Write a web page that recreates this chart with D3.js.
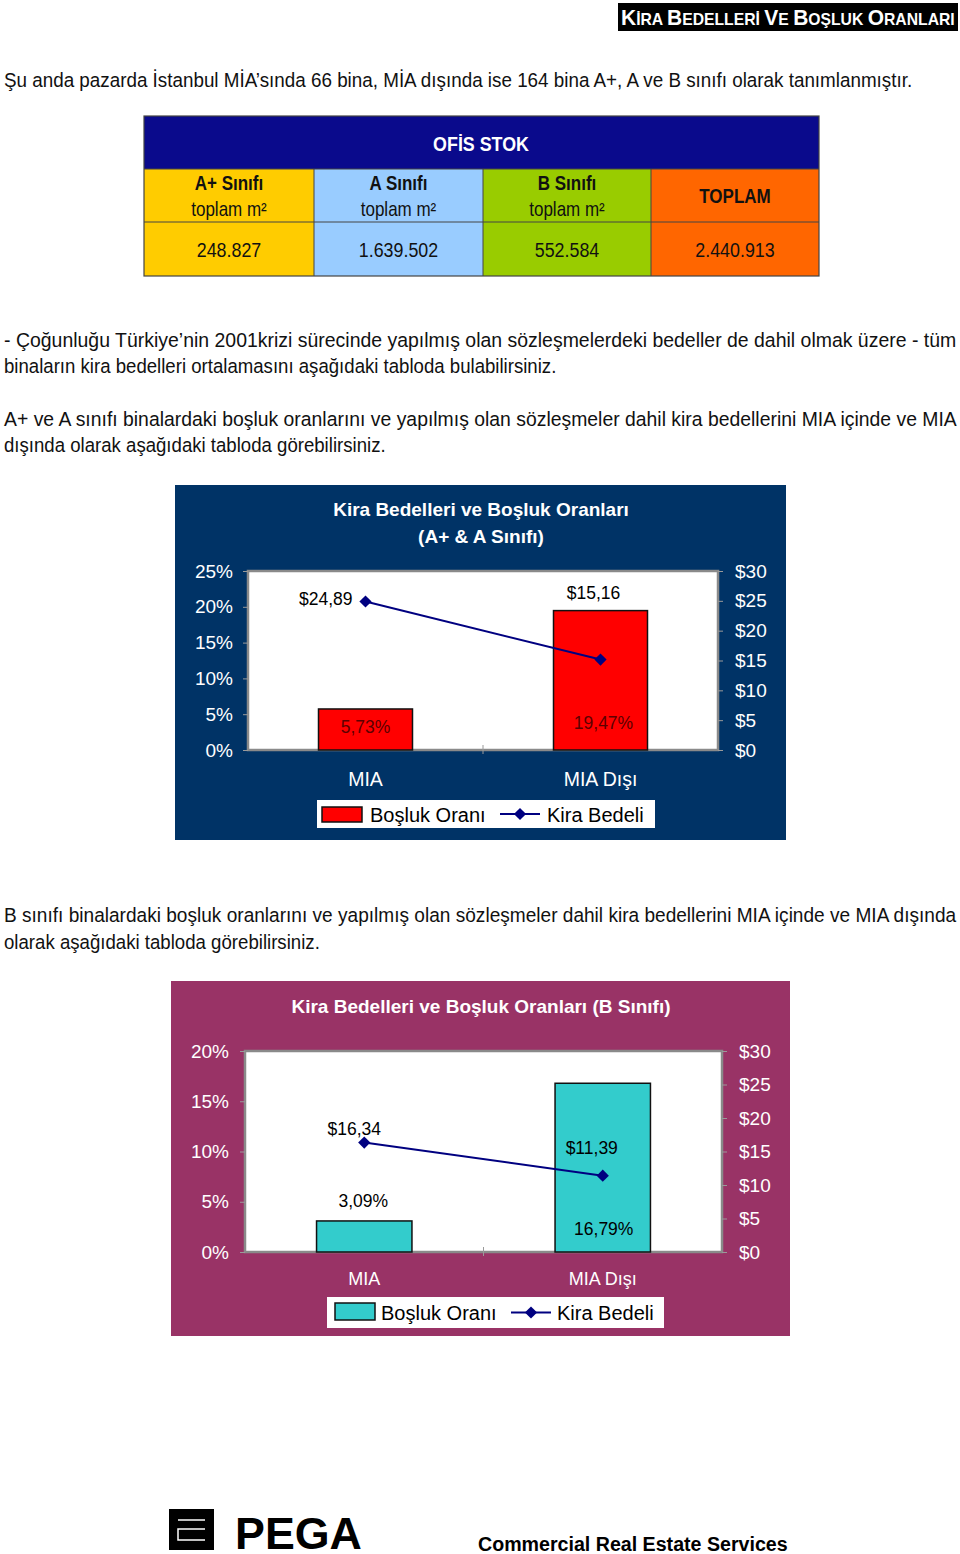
<!DOCTYPE html>
<html><head><meta charset="utf-8">
<script src="https://cdn.jsdelivr.net/npm/d3@7"></script>
<style>body{margin:0;background:#fff}svg{display:block}</style>
</head><body>
<script>
// ---------- DATA ----------
const categories = ["MIA", "MIA Dışı"];
const vacancyAA = [5.73, 19.47];      // Boşluk Oranı (%) A+ & A
const rentAA = [24.89, 15.16];        // Kira Bedeli ($) A+ & A
const vacancyB = [3.09, 16.79];       // Boşluk Oranı (%) B
const rentB = [16.34, 11.39];         // Kira Bedeli ($) B
const pctTicksAA = [0, 5, 10, 15, 20, 25];
const pctTicksB = [0, 5, 10, 15, 20];
const usdTicks = [0, 5, 10, 15, 20, 25, 30];
const stockClasses = ["A+ Sınıfı", "A Sınıfı", "B Sınıfı"];
const stockValues = ["248.827", "1.639.502", "552.584", "2.440.913"];

const W = 960, H = 1554;
const svg = d3.select("body").append("svg").attr("width", W).attr("height", H);
svg.append("rect").attr("width", W).attr("height", H).attr("fill", "#fff");
const FONT = "'Liberation Sans', Arial, sans-serif";

// horizontal scale of a text about its anchor point (keeps bbox honest)
function scaleText(t, f) {
  const x = +t.attr("x"), y = +t.attr("y");
  t.attr("x", 0).attr("y", 0).attr("transform", `translate(${x},${y}) scale(${f},1)`);
  return t;
}
function narrow(t, f) { return scaleText(t, f); }
function fitWidth(t, w) {
  const len = t.node().getComputedTextLength();
  return scaleText(t, w / len);
}

// ---------- HEADER ----------
svg.append("rect").attr("x", 618).attr("y", 3).attr("width", 340).attr("height", 28).attr("fill", "#000");
const hdr = svg.append("text").attr("x", 621).attr("y", 25).attr("fill", "#fff")
  .attr("font-family", FONT).attr("font-weight", "bold");
const hparts = [["K", "İRA "], ["B", "EDELLERİ "], ["V", "E "], ["B", "OŞLUK "], ["O", "RANLARI"]];
hparts.forEach(p => {
  hdr.append("tspan").attr("font-size", 22).text(p[0]);
  hdr.append("tspan").attr("font-size", 16.5).text(p[1]);
});
fitWidth(hdr, 334);

// ---------- PARAGRAPHS ----------
const lines = [
  ["Şu anda pazarda İstanbul MİA’sında 66 bina, MİA dışında ise 164 bina A+, A ve B sınıfı olarak tanımlanmıştır.", 87, 909],
  ["- Çoğunluğu Türkiye’nin 2001krizi sürecinde yapılmış olan sözleşmelerdeki bedeller de dahil olmak üzere - tüm", 347, 953],
  ["binaların kira bedelleri ortalamasını aşağıdaki tabloda bulabilirsiniz.", 373, 553],
  ["A+ ve A sınıfı binalardaki boşluk oranlarını ve yapılmış olan sözleşmeler dahil kira bedellerini MIA içinde ve MIA", 426, 953],
  ["dışında olarak aşağıdaki tabloda görebilirsiniz.", 452, 382],
  ["B sınıfı binalardaki boşluk oranlarını ve yapılmış olan sözleşmeler dahil kira bedellerini MIA içinde ve MIA dışında", 922, 953],
  ["olarak aşağıdaki tabloda görebilirsiniz.", 949, 316]
];
lines.forEach(l => {
  const t = svg.append("text").attr("x", 4).attr("y", l[1]).attr("font-family", FONT)
    .attr("font-size", 19.5).attr("fill", "#111").text(l[0]);
  fitWidth(t, l[2]);
});

// ---------- STOCK TABLE ----------
const tx = [144, 314, 483, 651, 819];
const cellColors = ["#FFCC00", "#99CCFF", "#99CC00", "#FF6600"];
const tbl = svg.append("g");
tbl.append("rect").attr("x", 144).attr("y", 116).attr("width", 675).attr("height", 53).attr("fill", "#0a0a8c");
for (let i = 0; i < 4; i++) {
  tbl.append("rect").attr("x", tx[i]).attr("y", 169).attr("width", tx[i + 1] - tx[i]).attr("height", 107)
    .attr("fill", cellColors[i]);
}
const lineCol = "#444";
tbl.append("rect").attr("x", 144).attr("y", 116).attr("width", 675).attr("height", 160)
  .attr("fill", "none").attr("stroke", lineCol).attr("stroke-width", 1.2);
[169, 222].forEach(y => tbl.append("line").attr("x1", 144).attr("x2", 819).attr("y1", y).attr("y2", y)
  .attr("stroke", lineCol).attr("stroke-width", 1));
[314, 483, 651].forEach(x => tbl.append("line").attr("x1", x).attr("x2", x).attr("y1", 169).attr("y2", 276)
  .attr("stroke", lineCol).attr("stroke-width", 1));
narrow(tbl.append("text").attr("x", 481).attr("y", 151).attr("text-anchor", "middle").attr("fill", "#fff")
  .attr("font-family", FONT).attr("font-weight", "bold").attr("font-size", 21).text("OFİS STOK"), 0.85);
stockClasses.forEach((c, i) => {
  const cx = (tx[i] + tx[i + 1]) / 2;
  narrow(tbl.append("text").attr("x", cx).attr("y", 190).attr("text-anchor", "middle").attr("fill", "#111")
    .attr("font-family", FONT).attr("font-weight", "bold").attr("font-size", 20).text(c), 0.85);
  narrow(tbl.append("text").attr("x", cx).attr("y", 216).attr("text-anchor", "middle").attr("fill", "#111")
    .attr("font-family", FONT).attr("font-size", 20).text("toplam m²"), 0.85);
});
narrow(tbl.append("text").attr("x", 735).attr("y", 203).attr("text-anchor", "middle").attr("fill", "#111")
  .attr("font-family", FONT).attr("font-weight", "bold").attr("font-size", 20).text("TOPLAM"), 0.85);
stockValues.forEach((v, i) => {
  const cx = (tx[i] + tx[i + 1]) / 2;
  narrow(tbl.append("text").attr("x", cx).attr("y", 257).attr("text-anchor", "middle").attr("fill", "#111")
    .attr("font-family", FONT).attr("font-size", 21).text(v), 0.85);
});

// ---------- CHARTS ----------
function drawChart(cfg) {
  const g = svg.append("g").attr("font-family", FONT);
  g.append("rect").attr("x", cfg.box[0]).attr("y", cfg.box[1]).attr("width", cfg.box[2]).attr("height", cfg.box[3])
    .attr("fill", cfg.bg);
  cfg.title.forEach((t, i) => {
    g.append("text").attr("x", cfg.titleX).attr("y", cfg.titleY + i * 27).attr("text-anchor", "middle")
      .attr("fill", "#fff").attr("font-weight", "bold").attr("font-size", 19).text(t);
  });
  const [pl, pt, pr, pb] = cfg.plot;
  g.append("rect").attr("x", pl).attr("y", pt).attr("width", pr - pl).attr("height", pb - pt)
    .attr("fill", "#fff").attr("stroke", "#8a8a8a").attr("stroke-width", 2.5);

  const x = d3.scaleBand().domain(categories).range([pl, pr]).paddingInner(0.6).paddingOuter(0.3);
  const yL = d3.scaleLinear().domain([0, cfg.pctMax]).range([pb, pt]);
  const yR = d3.scaleLinear().domain([0, 30]).range([pb, pt]);

  const axL = g.append("g").attr("transform", `translate(${pl},0)`)
    .call(d3.axisLeft(yL).tickValues(cfg.pctTicks).tickFormat(d => d + "%").tickSize(5).tickPadding(cfg.padL));
  const axR = g.append("g").attr("transform", `translate(${pr},0)`)
    .call(d3.axisRight(yR).tickValues(usdTicks).tickFormat(d => "$" + d).tickSize(5).tickPadding(cfg.padR));
  [axL, axR].forEach(a => {
    a.select(".domain").remove();
    a.selectAll("line").attr("stroke", "#9a9a9a");
    a.selectAll("text").attr("fill", "#fff").attr("font-size", 19).attr("font-family", FONT);
  });
  // category separator tick
  g.append("line").attr("x1", (pl + pr) / 2).attr("x2", (pl + pr) / 2).attr("y1", pb - 5).attr("y2", pb + 4)
    .attr("stroke", "#9a9a9a");

  // bars
  g.selectAll("rect.bar").data(cfg.vac).join("rect").attr("class", "bar")
    .attr("x", (d, i) => x(categories[i])).attr("width", x.bandwidth())
    .attr("y", d => yL(d)).attr("height", d => pb - yL(d))
    .attr("fill", cfg.barColor).attr("stroke", "#111").attr("stroke-width", 1.5);

  // line
  const cx = i => x(categories[i]) + x.bandwidth() / 2;
  g.append("path").datum(cfg.rent)
    .attr("d", d3.line().x((d, i) => cx(i)).y(d => yR(d)))
    .attr("fill", "none").attr("stroke", "#000080").attr("stroke-width", 2);
  g.selectAll("path.mk").data(cfg.rent).join("path").attr("class", "mk")
    .attr("d", d3.symbol(d3.symbolDiamond2, 95))
    .attr("transform", (d, i) => `translate(${cx(i)},${yR(d)})`).attr("fill", "#000080");

  // value labels
  const fmtUsd = v => "$" + v.toFixed(2).replace(".", ",");
  const fmtPct = v => v.toFixed(2).replace(".", ",") + "%";
  cfg.rent.forEach((v, i) => {
    const o = cfg.rentOff[i];
    g.append("text").attr("x", cx(i) + o[0]).attr("y", yR(v) + o[1]).attr("text-anchor", o[2])
      .attr("font-size", 17.5).attr("fill", "#000").text(fmtUsd(v));
  });
  cfg.vac.forEach((v, i) => {
    const o = cfg.vacOff[i];
    g.append("text").attr("x", cx(i) + o[0]).attr("y", yL(v) + o[1]).attr("text-anchor", "middle")
      .attr("font-size", 17.5).attr("fill", cfg.vacTextColor).text(fmtPct(v));
  });

  // category labels
  categories.forEach((c, i) => {
    g.append("text").attr("x", cx(i)).attr("y", cfg.catY).attr("text-anchor", "middle")
      .attr("fill", "#fff").attr("font-size", cfg.catSize).text(c);
  });

  // legend
  const L = cfg.legend;
  g.append("rect").attr("x", L.x).attr("y", L.y).attr("width", L.w).attr("height", L.h).attr("fill", "#fff");
  g.append("rect").attr("x", L.x + L.sw[0]).attr("y", L.y + L.sw[1]).attr("width", 40).attr("height", L.sw[2])
    .attr("fill", cfg.barColor).attr("stroke", "#111").attr("stroke-width", 1.5);
  g.append("text").attr("x", L.x + L.t1).attr("y", L.y + L.ty).attr("font-size", 20).attr("fill", "#000").text("Boşluk Oranı");
  const ly = L.y + L.h / 2;
  g.append("line").attr("x1", L.x + L.l1).attr("x2", L.x + L.l1 + 40).attr("y1", ly).attr("y2", ly)
    .attr("stroke", "#000080").attr("stroke-width", 2);
  g.append("path").attr("d", d3.symbol(d3.symbolDiamond2, 95))
    .attr("transform", `translate(${L.x + L.l1 + 20},${ly})`).attr("fill", "#000080");
  g.append("text").attr("x", L.x + L.t2).attr("y", L.y + L.ty).attr("font-size", 20).attr("fill", "#000").text("Kira Bedeli");
}

drawChart({
  box: [175, 485, 611, 355], bg: "#003366",
  title: ["Kira Bedelleri ve Boşluk Oranları", "(A+ & A Sınıfı)"], titleX: 481, titleY: 516,
  plot: [248, 571, 718, 750], pctMax: 25, pctTicks: pctTicksAA, padL: 10, padR: 12,
  vac: vacancyAA, rent: rentAA, barColor: "#FF0000", vacTextColor: "#5c0000",
  rentOff: [[-13, 4, "end"], [-7, -61, "middle"]],
  vacOff: [[0, 24], [3, 118]],
  catY: 786, catSize: 19.5,
  legend: { x: 317, y: 800, w: 338, h: 28, sw: [5, 7, 15], t1: 53, t2: 230, l1: 183, ty: 22 }
});

drawChart({
  box: [171, 981, 619, 355], bg: "#993366",
  title: ["Kira Bedelleri ve Boşluk Oranları (B Sınıfı)"], titleX: 481, titleY: 1013,
  plot: [245, 1051, 722, 1252], pctMax: 20, pctTicks: pctTicksB, padL: 11, padR: 12,
  vac: vacancyB, rent: rentB, barColor: "#33CCCC", vacTextColor: "#000",
  rentOff: [[-10, -8, "middle"], [-11, -22, "middle"]],
  vacOff: [[-1, -14], [1, 152]],
  catY: 1285, catSize: 18,
  legend: { x: 327, y: 1297, w: 337, h: 31, sw: [8, 6, 17], t1: 54, t2: 230, l1: 184, ty: 23 }
});

// ---------- FOOTER ----------
const ft = svg.append("g");
ft.append("rect").attr("x", 169).attr("y", 1509).attr("width", 45).attr("height", 41).attr("fill", "#000");
ft.append("line").attr("x1", 178).attr("x2", 205).attr("y1", 1520).attr("y2", 1520).attr("stroke", "#fff").attr("stroke-width", 1.5);
ft.append("path").attr("d", "M205,1529 H178 V1540 H205").attr("fill", "none").attr("stroke", "#fff").attr("stroke-width", 1.5);
fitWidth(ft.append("text").attr("x", 235).attr("y", 1549).attr("font-family", FONT).attr("font-weight", "bold")
  .attr("font-size", 44).attr("fill", "#000").text("PEGA"), 127);
fitWidth(ft.append("text").attr("x", 478).attr("y", 1551).attr("font-family", FONT).attr("font-weight", "bold")
  .attr("font-size", 19.5).attr("fill", "#000").text("Commercial Real Estate Services"), 310);
</script>
</body></html>
